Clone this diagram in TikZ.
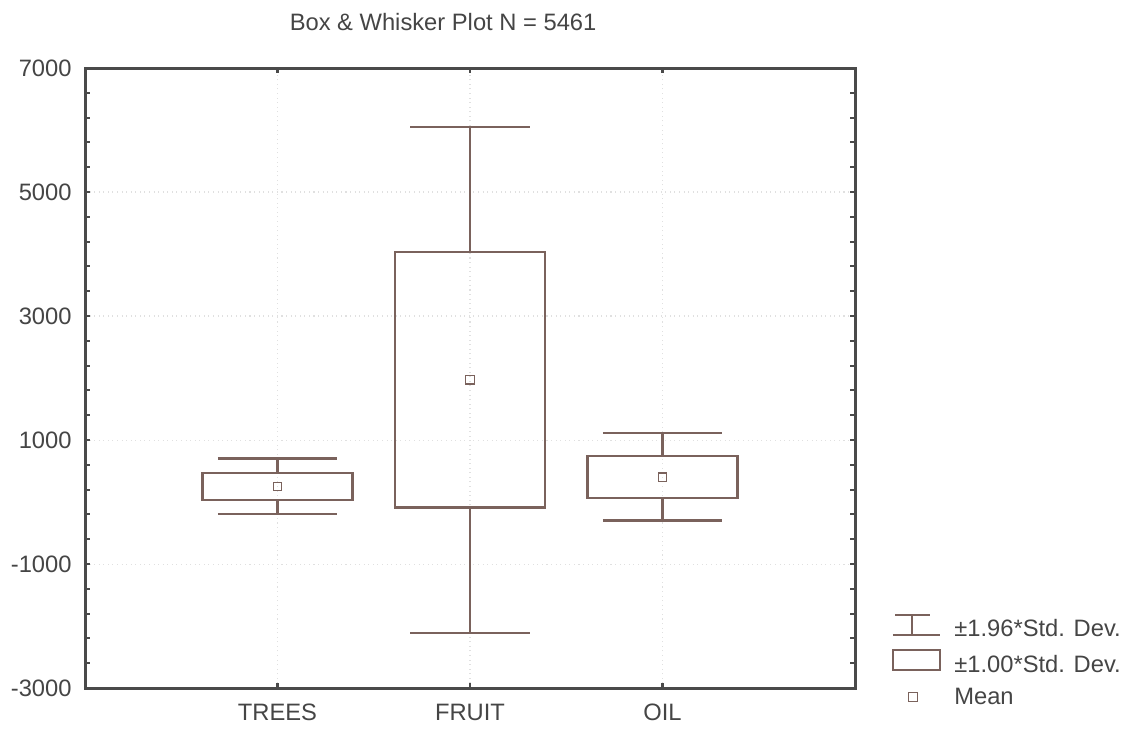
\documentclass[tikz,border=0pt]{standalone}
\usepackage{fontspec}
\setmainfont{Liberation Sans}
\usetikzlibrary{positioning}
\definecolor{boxline}{HTML}{7A625C}
\definecolor{frameline}{HTML}{4A4A4A}
\definecolor{labeltext}{HTML}{454545}

\begin{document}
\begin{tikzpicture}[x=3.85cm,y=1.24cm,font=\fontsize{13.5}{16}\selectfont]
\tikzstyle{frame} = [frameline,line width=1.7pt]
\tikzstyle{tickmark} = [frameline,line width=1.2pt]
\tikzstyle{boxstyle} = [boxline,line width=1.3pt]
\tikzstyle{meanmark} = [draw=boxline,line width=0.8pt,rectangle,minimum size=0.17cm,inner sep=0pt]
\tikzstyle{axislabel} = [text=labeltext,inner sep=0pt]
\tikzstyle{gridline} = [black!12,dotted,line width=0.6pt]

\useasboundingbox (-0.4416,-3.645) rectangle (5.418,8.097);

%Faint grid lines behind the boxes
 \draw[gridline] (0,5) -- (4,5);
 \draw[gridline] (0,3) -- (4,3);
 \draw[gridline] (0,1) -- (4,1);
 \draw[gridline] (0,-1) -- (4,-1);
 \draw[gridline] (1,-3) -- (1,7);
 \draw[gridline] (2,-3) -- (2,7);
 \draw[gridline] (3,-3) -- (3,7);

%Frame of the plot
 \draw[frame] (0,-3) rectangle (4,7);

%Minor ticks on both value axes
\foreach \i in {1,...,24} {
 \draw[tickmark] (0,{-3+0.4*\i}) -- ++(0.026,0);
 \draw[tickmark] (4,{-3+0.4*\i}) -- ++(-0.026,0);
}

%Category ticks on top and bottom
 \draw[tickmark] (1,-3) -- ++(0,0.08);
 \draw[tickmark] (2,-3) -- ++(0,0.08);
 \draw[tickmark] (3,-3) -- ++(0,0.08);
 \draw[tickmark] (1,7) -- ++(0,-0.08);
 \draw[tickmark] (2,7) -- ++(0,-0.08);
 \draw[tickmark] (3,7) -- ++(0,-0.08);

%Box for TREES:
 \draw[boxstyle] (0.69,0.70) -- (1.31,0.70);
 \draw[boxstyle] (1,0.70) -- (1,0.47);
 \draw[boxstyle] (0.61,0.03) rectangle (1.39,0.47);
 \draw[boxstyle] (1,0.03) -- (1,-0.19);
 \draw[boxstyle] (0.69,-0.19) -- (1.31,-0.19);
 \node[meanmark] (mtrees) at (1,0.25) {};

%Box for FRUIT:
 \draw[boxstyle] (1.69,6.05) -- (2.31,6.05);
 \draw[boxstyle] (2,6.05) -- (2,4.03);
 \draw[boxstyle] (1.61,-0.09) rectangle (2.39,4.03);
 \draw[boxstyle] (2,-0.09) -- (2,-2.11);
 \draw[boxstyle] (1.69,-2.11) -- (2.31,-2.11);
 \node[meanmark] (mfruit) at (2,1.97) {};

%Box for OIL:
 \draw[boxstyle] (2.69,1.11) -- (3.31,1.11);
 \draw[boxstyle] (3,1.11) -- (3,0.74);
 \draw[boxstyle] (2.61,0.06) rectangle (3.39,0.74);
 \draw[boxstyle] (3,0.06) -- (3,-0.30);
 \draw[boxstyle] (2.69,-0.30) -- (3.31,-0.30);
 \node[meanmark] (moil) at (3,0.40) {};

%Title
 \node[axislabel,anchor=base] (title) at (1.86,7.597) {Box \& Whisker Plot N = 5461};

%Value axis labels
 \node[axislabel,anchor=east] (ysevenk) at (-0.068,7) {7000};
 \node[axislabel,anchor=east] (yfivek) at (-0.068,5) {5000};
 \node[axislabel,anchor=east] (ythreek) at (-0.068,3) {3000};
 \node[axislabel,anchor=east] (yonek) at (-0.068,1) {1000};
 \node[axislabel,anchor=east] (yminusonek) at (-0.068,-1) {-1000};
 \node[axislabel,anchor=east] (yminusthreek) at (-0.068,-3) {-3000};

%Category labels
 \node[axislabel,anchor=base] (trees) at (1,-3.516) {TREES};
 \node[axislabel,anchor=base] (fruit) at (2,-3.516) {FRUIT};
 \node[axislabel,anchor=base] (oil) at (3,-3.516) {OIL};

%Legend
 \draw[boxstyle] (4.208,-1.823) -- (4.390,-1.823);
 \draw[boxstyle] (4.296,-1.823) -- (4.296,-2.145);
 \draw[boxstyle] (4.197,-2.145) -- (4.442,-2.145);
 \draw[boxstyle] (4.197,-2.387) rectangle (4.442,-2.710);
 \node[meanmark] (legmean) at (4.301,-3.145) {};
 \node[axislabel,anchor=base west] (legwhisker) at (4.514,-2.161) {±1.96*Std. Dev.};
 \node[axislabel,anchor=base west] (legbox) at (4.514,-2.742) {±1.00*Std. Dev.};
 \node[axislabel,anchor=base west] (legmeantext) at (4.514,-3.258) {Mean};

\end{tikzpicture}
\end{document}
